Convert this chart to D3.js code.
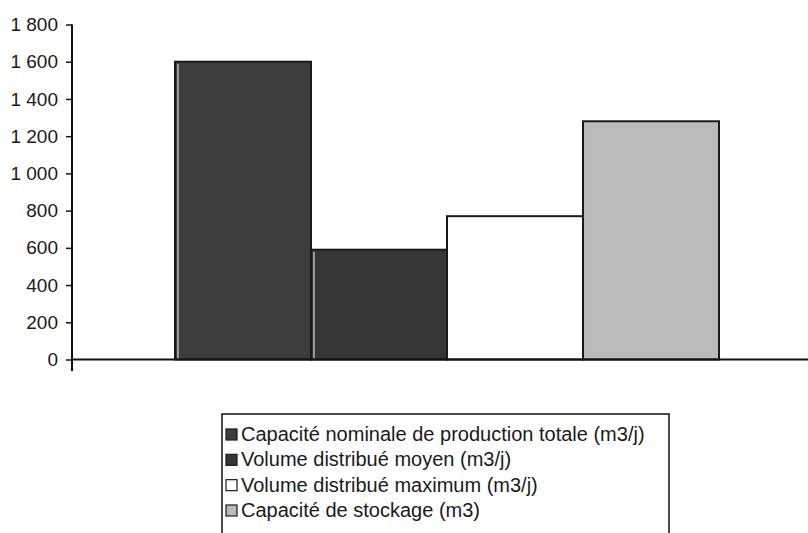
<!DOCTYPE html>
<html><head><meta charset="utf-8">
<script src="https://cdn.jsdelivr.net/npm/d3@7"></script>
<style>body{margin:0;background:#fff}svg{display:block;font-family:"Liberation Sans",Arial,sans-serif}</style>
</head><body><svg id="c" width="808" height="533"></svg>
<script>
const series = ["Capacité nominale de production totale (m3/j)","Volume distribué moyen (m3/j)","Volume distribué maximum (m3/j)","Capacité de stockage (m3)"];
const values = [1600, 590, 770, 1280];
const colors = ["#3d3d3d","#363636","#ffffff","#bababa"];
const yTicks = [0,200,400,600,800,1000,1200,1400,1600,1800];
const fmt = d => d3.format(",")(d).replace(/,/g," ");

const svg = d3.select("#c");
const x0 = 72, xEnd = 808;
const y = d3.scaleLinear().domain([0,1800]).range([359.5,24.5]);
const outer = d3.scaleBand().domain(["g"]).range([x0, 822]).paddingInner(0).paddingOuter(0.1893);
const x = d3.scaleBand().domain(series).range([outer("g"), outer("g")+outer.bandwidth()]).padding(0);

const g = svg.append("g");
g.selectAll("rect.bar").data(series).join("rect").attr("class","bar")
  .attr("x", d=>x(d)).attr("width", x.bandwidth())
  .attr("y", (d,i)=>y(values[i])).attr("height",(d,i)=>y(0)-y(values[i]))
  .attr("fill",(d,i)=>colors[i]).attr("stroke","#1a1a1a").attr("stroke-width",2);
// light inner edge of the dark bars
g.selectAll("line.hl").data(series.slice(0,2)).join("line").attr("class","hl")
  .attr("x1",d=>x(d)+3).attr("x2",d=>x(d)+3)
  .attr("y1",(d,i)=>y(values[i])+2).attr("y2",y(0)-1)
  .attr("stroke","#d8d8d8").attr("stroke-width",1.2);

// y axis
const ya = svg.append("g").attr("transform",`translate(${x0},0)`)
  .call(d3.axisLeft(y).tickValues(yTicks).tickFormat(fmt).tickSize(6).tickPadding(8));
ya.select(".domain").remove();
ya.selectAll("line").attr("stroke","#111").attr("stroke-width",1.5);
ya.selectAll("text").attr("font-size",19).attr("fill","#1a1a1a").attr("font-family","Liberation Sans, Arial, sans-serif");
svg.append("line").attr("x1",x0).attr("x2",x0).attr("y1",y(1800)).attr("y2",371).attr("stroke","#111").attr("stroke-width",2);
svg.append("line").attr("x1",x0).attr("x2",xEnd).attr("y1",y(0)).attr("y2",y(0)).attr("stroke","#111").attr("stroke-width",2);

// legend
const lg = svg.append("g");
lg.append("rect").attr("x",222).attr("y",414).attr("width",447).attr("height",130).attr("fill","none").attr("stroke","#111").attr("stroke-width",1.5);
const rowY = d3.scalePoint().domain(series).range([434,510]);
const it = lg.selectAll("g.it").data(series).join("g").attr("class","it");
it.append("rect").attr("x",226).attr("y",d=>rowY(d)-5).attr("width",11).attr("height",11)
  .attr("fill",(d,i)=>colors[i]).attr("stroke","#1a1a1a").attr("stroke-width",1.2);
it.append("text").attr("x",241).attr("y",d=>rowY(d)+7).attr("font-size",20).attr("fill","#1a1a1a").text(d=>d);
</script></body></html>
